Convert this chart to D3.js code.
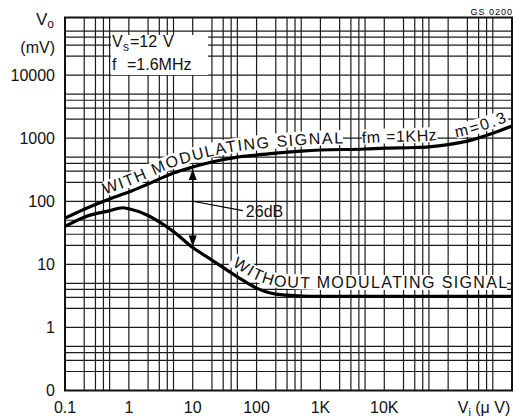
<!doctype html>
<html lang="en">
<head>
    <meta charset="utf-8">
    <title>Vo vs Vi</title>
    <script src="https://cdnjs.cloudflare.com/ajax/libs/d3/7.8.5/d3.min.js"></script>
    <style>
        body { margin: 0; background: #fff; }
        svg { display: block; font-family: "Liberation Sans", Arial, sans-serif; }
        .grid line { stroke: #1c1c1c; stroke-width: 1.2; }
        .frame { fill: none; stroke: #111; stroke-width: 2; }
        .lbl { font-size: 16px; fill: #111; }
        .curve { fill: none; stroke: #000; stroke-width: 3.2; stroke-linejoin: round; }
        .band { fill: none; stroke: #fff; stroke-width: 15; }
        .curve-label { font-size: 16px; fill: #111; }
    </style>
</head>
<body>
    <div id="chart"></div>
    <script>
        var width = 524;
        var height = 418;

        // axis ticks
        var xTicks = [0.1, 1, 10, 100, 1000, 10000];
        var xTickLabels = ["0.1", "1", "10", "100", "1K", "10K"];
        var yTicks = [0.1, 1, 10, 100, 1000, 10000];
        var yTickLabels = ["0", "1", "10", "100", "1000", "10000"];
        var minorSteps = [1, 2, 3, 4, 5];

        // with modulating signal (fm = 1KHz, m = 0.3)
        var withVi = [0.1, 0.2, 0.5, 1, 2, 5, 10, 20, 50, 100, 200, 500, 1000, 5000, 10000, 30000, 50000, 100000, 200000, 500000, 1000000];
        var withVo = [54, 75, 109, 140, 188, 281, 349, 419, 502, 541, 582, 625, 650, 674, 698, 712, 730, 790, 900, 1200, 1560];

        // without modulating signal
        var withoutVi = [0.1, 0.2, 0.5, 0.8, 1, 2, 3, 5, 10, 20, 50, 100, 200, 500, 1000, 10000, 100000, 1000000];
        var withoutVo = [40, 56, 71, 79, 76, 59.5, 47, 33, 18.5, 11.7, 6.35, 4.2, 3.37, 3.15, 3.1, 3.1, 3.1, 3.1];

        var svg = d3.select('#chart')
            .append('svg')
            .attr('width', width)
            .attr('height', height);

        var x = d3.scaleLog().domain([0.1, 1000000]).range([65, 512]);
        var y = d3.scaleLog().domain([0.1, 82000]).range([390.5, 17.5]);

        // grid
        var gx = [], gy = [];
        for (var d = 0.1; d < 1000000; d *= 10) {
            minorSteps.forEach(function(m) { gx.push(d * m); });
        }
        for (var e = 0.1; e < 82000; e *= 10) {
            minorSteps.forEach(function(m) { if (e * m < 82000) gy.push(e * m); });
        }
        var grid = svg.append('g').attr('class', 'grid');
        grid.selectAll('line.v').data(gx).enter().append('line')
            .attr('class', 'v')
            .attr('x1', function(d) { return x(d); })
            .attr('x2', function(d) { return x(d); })
            .attr('y1', y.range()[0])
            .attr('y2', y.range()[1]);
        grid.selectAll('line.h').data(gy).enter().append('line')
            .attr('class', 'h')
            .attr('y1', function(d) { return y(d); })
            .attr('y2', function(d) { return y(d); })
            .attr('x1', x.range()[0])
            .attr('x2', x.range()[1]);

        svg.append('rect')
            .attr('class', 'frame')
            .attr('x', x.range()[0])
            .attr('y', y.range()[1])
            .attr('width', x.range()[1] - x.range()[0])
            .attr('height', y.range()[0] - y.range()[1]);

        // tick labels
        svg.selectAll('text.yl').data(yTicks).enter().append('text')
            .attr('class', 'lbl yl')
            .attr('x', 55)
            .attr('y', function(d) { return y(d); })
            .attr('dy', '0.36em')
            .attr('text-anchor', 'end')
            .text(function(d, i) { return yTickLabels[i]; });

        svg.selectAll('text.xl').data(xTicks).enter().append('text')
            .attr('class', 'lbl xl')
            .attr('x', function(d) { return x(d); })
            .attr('y', 413)
            .attr('text-anchor', 'middle')
            .text(function(d, i) { return xTickLabels[i]; });

        var vo = svg.append('text').attr('class', 'lbl').attr('x', 54).attr('y', 25).attr('text-anchor', 'end');
        vo.append('tspan').style('font-size', '17px').text('V');
        vo.append('tspan').style('font-size', '12px').attr('dy', 3).text('o');
        svg.append('text').attr('class', 'lbl').attr('x', 55).attr('y', 53).attr('text-anchor', 'end').text('(mV)');

        var vi = svg.append('text').attr('class', 'lbl').attr('x', 484).attr('y', 413).attr('text-anchor', 'middle');
        vi.append('tspan').text('V');
        vi.append('tspan').style('font-size', '11px').attr('dy', 3).text('i');
        vi.append('tspan').attr('dy', -3).text(' (\u03bc V)');

        svg.append('text')
            .attr('x', 513).attr('y', 15)
            .attr('text-anchor', 'end')
            .style('font-size', '9px')
            .style('letter-spacing', '1px')
            .text('GS 0200');

        // condition box
        svg.append('rect').attr('x', 111).attr('y', 35).attr('width', 97).attr('height', 40).attr('fill', '#fff');
        var l1 = svg.append('text').attr('class', 'lbl').attr('y', 47);
        l1.append('tspan').attr('x', 112).text('V');
        l1.append('tspan').attr('x', 123).attr('dy', 4).style('font-size', '12px').text('s');
        l1.append('tspan').attr('x', 130).attr('dy', -4).text('=12');
        l1.append('tspan').attr('x', 163).text('V');
        var l2 = svg.append('text').attr('class', 'lbl').attr('y', 70);
        l2.append('tspan').attr('x', 112).text('f');
        l2.append('tspan').attr('x', 127).text('=1.6MHz');

        // curves
        var withData = withVi.map(function(v, i) { return {vi: v, vo: withVo[i]}; });
        var withoutData = withoutVi.map(function(v, i) { return {vi: v, vo: withoutVo[i]}; });

        function lineAt(off) {
            return d3.line()
                .x(function(d) { return x(d.vi); })
                .y(function(d) { return y(d.vo) - off; })
                .curve(d3.curveMonotoneX);
        }

        var defs = svg.append('defs');
        var upPath = defs.append('path').attr('id', 'upPath').attr('d', lineAt(6)(withData)).node();
        var lowPath = defs.append('path').attr('id', 'lowPath').attr('d', lineAt(8)(withoutData)).node();
        var bands = svg.append('g');
        var labels = svg.append('g');

        svg.append('path').attr('class', 'curve').attr('d', lineAt(0)(withData));
        svg.append('path').attr('class', 'curve').attr('d', lineAt(0)(withoutData));

        function lengthAtX(node, px) {
            var lo = 0, hi = node.getTotalLength();
            for (var i = 0; i < 40; i++) {
                var mid = (lo + hi) / 2;
                if (node.getPointAtLength(mid).x < px) lo = mid; else hi = mid;
            }
            return lo;
        }

        function pathLabel(node, id, str, x0, x1) {
            var s = lengthAtX(node, x0);
            var target = lengthAtX(node, x1) - s;
            // white band under the text, along the same path
            bands.append('path')
                .attr('class', 'band')
                .attr('d', d3.select(node).attr('d'))
                .attr('transform', 'translate(0,-6)')
                .attr('stroke-dasharray', '0,' + s + ',' + target + ',5000');
            var t = labels.append('text').attr('class', 'curve-label');
            t.append('textPath')
                .attr('href', '#' + id)
                .attr('startOffset', s)
                .text(str);
            var natural = t.node().getComputedTextLength();
            var sp = (target - natural) / (str.length - 1);
            t.style('letter-spacing', sp + 'px');
        }

        pathLabel(upPath, 'upPath', 'WITH MODULATING SIGNAL', 105, 343);
        pathLabel(upPath, 'upPath', 'fm =1KHz', 362, 437);
        pathLabel(upPath, 'upPath', 'm=0.3', 456, 507);
        pathLabel(lowPath, 'lowPath', 'WITHOUT MODULATING SIGNAL', 232, 507);

        // 26dB arrow
        var ax = x(10);
        var aTop = y(withVo[withVi.indexOf(10)]) + 2;
        var aBot = y(withoutVo[withoutVi.indexOf(10)]) - 1;
        svg.append('line').attr('x1', ax).attr('x2', ax).attr('y1', aTop + 8).attr('y2', aBot - 8)
            .attr('stroke', '#000').attr('stroke-width', 1.5);
        svg.append('path').attr('d', 'M' + ax + ',' + aTop + 'l-4,11h8z').attr('fill', '#000');
        svg.append('path').attr('d', 'M' + ax + ',' + aBot + 'l-4,-11h8z').attr('fill', '#000');
        svg.append('line')
            .attr('x1', ax).attr('y1', y(100))
            .attr('x2', x(61)).attr('y2', y(71))
            .attr('stroke', '#000').attr('stroke-width', 1.2);
        svg.append('text').attr('class', 'lbl').attr('x', x(61) + 3).attr('y', y(71) + 6).text('26dB');
    </script>
</body>
</html>
